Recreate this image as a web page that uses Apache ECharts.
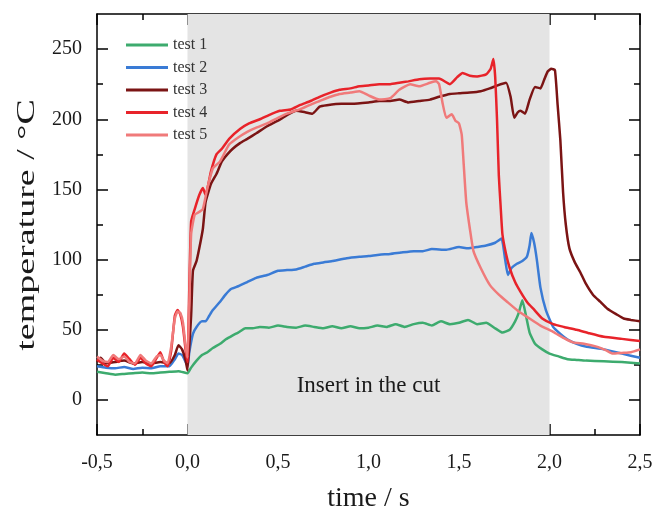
<!DOCTYPE html>
<html>
<head>
<meta charset="utf-8">
<script src="https://cdn.jsdelivr.net/npm/echarts@6/dist/echarts.min.js"></script>
<style>
  html, body { margin: 0; padding: 0; background: #fff; }
  #chart { width: 654px; height: 514px; }
</style>
</head>
<body>
<div id="chart"></div>
<script>
// series names + colours
var seriesNames = ['test 1', 'test 2', 'test 3', 'test 4', 'test 5'];
var seriesColors = ['#3dab6e', '#3a7bd5', '#7b1414', '#e8232a', '#f07a7a'];

// axis ticks
var yMajorTicks = [0, 50, 100, 150, 200, 250];
var yMinorTicks = [25, 75, 125, 175, 225];
var shadeRange = [0, 2];
var shadeLabel = 'Insert in the cut';
var yTitle = 'temperature / °C';
var xTitle = 'time / s';

// [time s, temperature °C]
var test1 = [[-0.5,20],[-0.45,19],[-0.4,18],[-0.35,18.5],[-0.3,19],[-0.25,19.5],[-0.2,19],[-0.15,19.5],[-0.1,20],[-0.05,20.5],[0,19],[0.02,23],[0.05,28],[0.08,32],[0.11,34],[0.14,37],[0.18,40],[0.21,43],[0.25,46],[0.28,48],[0.32,51],[0.36,51],[0.4,52],[0.45,51.5],[0.5,53],[0.55,52],[0.6,51.5],[0.65,53],[0.7,52],[0.75,51],[0.8,52.5],[0.85,51],[0.9,52.5],[0.95,51],[1.0,51.5],[1.05,53],[1.1,52],[1.15,54],[1.2,52],[1.25,54],[1.3,55],[1.35,53],[1.4,56],[1.45,54],[1.5,55],[1.55,57],[1.6,54],[1.65,55],[1.7,51],[1.74,48],[1.78,50],[1.81,56],[1.83,62],[1.85,71],[1.87,60],[1.89,48],[1.92,40],[1.96,36],[2.0,33],[2.05,31],[2.1,29],[2.15,28.5],[2.2,28],[2.3,27.5],[2.4,27],[2.5,26]];
var test2 = [[-0.5,24],[-0.45,23],[-0.4,22.5],[-0.35,23.5],[-0.3,22],[-0.25,23],[-0.2,22.5],[-0.15,24],[-0.1,24],[-0.07,29],[-0.05,33],[-0.03,32],[-0.01,27],[0,24],[0.01,34],[0.03,47],[0.05,52],[0.08,56],[0.1,56],[0.12,60],[0.14,64],[0.18,70],[0.21,75],[0.24,79],[0.28,81],[0.33,84],[0.38,87],[0.44,89],[0.5,92],[0.55,92.5],[0.6,93],[0.65,95],[0.7,97],[0.75,98],[0.8,99],[0.88,101],[0.95,102],[1.0,102.5],[1.06,103.5],[1.12,104],[1.18,105],[1.25,106],[1.3,106],[1.35,107.5],[1.43,107],[1.5,109],[1.55,108],[1.6,109],[1.65,110],[1.7,112],[1.735,115],[1.755,100],[1.77,89],[1.79,94],[1.82,97],[1.85,99],[1.875,102],[1.89,110],[1.9,119],[1.915,112],[1.93,100],[1.95,80],[1.98,64],[2.02,52],[2.06,47],[2.1,43],[2.15,40],[2.2,38],[2.3,36],[2.4,33],[2.5,30]];
var test3 = [[-0.5,27],[-0.48,30],[-0.45,26],[-0.4,27],[-0.35,28],[-0.3,26],[-0.25,27],[-0.2,26],[-0.15,27],[-0.1,26],[-0.07,32],[-0.05,39],[-0.03,36],[-0.01,28],[0,21],[0.02,60],[0.03,92],[0.05,99],[0.065,108],[0.085,122],[0.1,141],[0.13,154],[0.16,161],[0.19,170],[0.22,175],[0.25,179],[0.29,183],[0.33,186],[0.38,190],[0.44,195],[0.5,199],[0.55,203],[0.6,206],[0.65,205],[0.69,204],[0.73,209],[0.77,210],[0.85,211],[0.91,211],[1.0,212],[1.06,213],[1.12,213],[1.17,214],[1.22,212],[1.28,213],[1.34,214],[1.39,216],[1.45,218],[1.5,218.5],[1.56,219],[1.62,220],[1.67,222],[1.71,224],[1.76,226],[1.785,216],[1.805,201],[1.825,205],[1.84,206],[1.865,204],[1.89,214],[1.92,223],[1.95,222],[1.97,228],[1.99,234],[2.01,236],[2.03,235],[2.045,210],[2.06,185],[2.075,148],[2.09,125],[2.11,108],[2.14,98],[2.17,91],[2.2,83],[2.24,75],[2.28,70],[2.32,65],[2.37,61],[2.41,58],[2.45,57],[2.5,56]];
var test4 = [[-0.5,29],[-0.47,26],[-0.44,24],[-0.41,30],[-0.38,27],[-0.35,33],[-0.32,29],[-0.29,25],[-0.26,30],[-0.23,26],[-0.2,24],[-0.17,30],[-0.15,34],[-0.13,27],[-0.11,24],[-0.09,35],[-0.07,60],[-0.055,64],[-0.04,61],[-0.025,52],[-0.01,35],[0,27],[0.01,80],[0.02,127],[0.04,136],[0.065,146],[0.085,151],[0.1,146],[0.13,163],[0.16,175],[0.19,179],[0.23,186],[0.29,193],[0.34,197],[0.4,200],[0.45,203],[0.51,206],[0.57,207],[0.62,210],[0.68,213],[0.73,216],[0.79,219],[0.84,221],[0.9,222],[0.95,223.5],[1.0,224],[1.06,225],[1.12,225],[1.17,226],[1.22,227],[1.28,228.5],[1.34,229],[1.39,229],[1.45,225],[1.49,230],[1.52,233],[1.56,231],[1.6,230.5],[1.65,232],[1.675,236],[1.69,243],[1.7,230],[1.71,200],[1.72,160],[1.73,138],[1.74,118],[1.76,104],[1.78,94],[1.81,84],[1.84,77],[1.88,69],[1.91,65],[1.96,58],[2.02,54],[2.08,52],[2.15,50],[2.22,47.5],[2.3,45],[2.4,43.5],[2.5,42]];
var test5 = [[-0.5,31],[-0.47,28],[-0.44,27],[-0.41,32],[-0.38,29],[-0.35,31],[-0.32,27],[-0.29,26],[-0.26,32],[-0.23,28],[-0.2,26],[-0.17,31],[-0.15,32],[-0.13,28],[-0.11,26],[-0.09,38],[-0.07,58],[-0.055,63],[-0.04,62],[-0.025,55],[-0.01,38],[0,30],[0.01,70],[0.02,118],[0.04,132],[0.065,134],[0.085,136],[0.11,151],[0.14,165],[0.18,170],[0.23,182],[0.28,187],[0.33,191],[0.38,194],[0.44,197],[0.5,201],[0.55,204],[0.62,207],[0.69,211],[0.73,213],[0.79,216],[0.84,218],[0.9,219],[0.95,220],[1.0,217],[1.06,214],[1.12,215],[1.17,221],[1.23,225],[1.28,223.5],[1.34,226],[1.375,227],[1.39,225],[1.41,211],[1.43,201],[1.46,203.5],[1.48,199],[1.5,197],[1.515,189],[1.525,170],[1.54,141],[1.56,122],[1.58,106],[1.62,94],[1.67,82],[1.72,75],[1.765,70],[1.83,63],[1.89,58],[1.95,53],[2.02,48.5],[2.08,44],[2.13,41],[2.19,40],[2.26,38],[2.31,35.5],[2.35,33],[2.4,33.5],[2.45,34],[2.5,36]];

var allData = [test1, test2, test3, test4, test5];

var FONT = 'Liberation Serif';
var INK = '#1a1a1a';

var chart = echarts.init(document.getElementById('chart'));

function xAxisDef(pos, withLabels) {
  return {
    type: 'value', position: pos, min: -0.5, max: 2.5, interval: 0.5,
    name: withLabels ? xTitle : '',
    nameLocation: 'middle', nameGap: 50,
    nameTextStyle: { fontFamily: FONT, fontSize: 28, color: INK },
    axisLine: { show: true, onZero: false, lineStyle: { color: '#000', width: 1.5 } },
    axisTick: { show: true, inside: true, length: 11, lineStyle: { color: '#000', width: 1.5 } },
    minorTick: { show: true, splitNumber: 2, length: 6, lineStyle: { color: '#000', width: 1.5 } },
    axisLabel: {
      show: withLabels, margin: 18, fontFamily: FONT, fontSize: 20, color: INK,
      formatter: function (v) { return v.toFixed(1).replace('.', ','); }
    },
    splitLine: { show: false }, minorSplitLine: { show: false }
  };
}

function yAxisDef(pos, ticks, len, showLine, withLabels) {
  return {
    type: 'value', position: pos, min: -25, max: 275,
    axisLine: { show: showLine, onZero: false, lineStyle: { color: '#000', width: 1.5 } },
    axisTick: { show: true, inside: true, length: len, customValues: ticks, lineStyle: { color: '#000', width: 1.5 } },
    axisLabel: { show: withLabels, customValues: yMajorTicks, margin: 15, fontFamily: FONT, fontSize: 20, color: INK },
    splitLine: { show: false }
  };
}

var series = [{
  type: 'line', data: [], silent: true,
  markArea: {
    silent: true,
    itemStyle: { color: '#e4e4e4' },
    label: { show: true, position: 'insideBottom', distance: 38, fontFamily: FONT, fontSize: 23, color: INK },
    data: [[{ xAxis: shadeRange[0], name: shadeLabel }, { xAxis: shadeRange[1] }]]
  }
}];
allData.forEach(function (d, i) {
  series.push({
    name: seriesNames[i], type: 'line', data: d, color: seriesColors[i],
    showSymbol: false, smooth: 0.15,
    lineStyle: { width: 2.5, color: seriesColors[i] },
    xAxisIndex: 0, yAxisIndex: 0, z: 3 + i
  });
});

chart.setOption({
  backgroundColor: '#fff',
  animation: false,
  grid: { left: 97, right: 14, top: 14, bottom: 79, outerBoundsMode: 'none' },
  legend: {
    data: seriesNames, orient: 'vertical', left: 121, top: 32,
    icon: 'rect', itemWidth: 42, itemHeight: 3, itemGap: 6.5,
    textStyle: { fontFamily: FONT, fontSize: 16, color: '#333' }
  },
  // the y title in the picture is drawn long and narrow
  graphic: [{
    type: 'text', x: 27, y: 225, rotation: Math.PI / 2, scaleX: 1.52, scaleY: 1,
    style: { text: yTitle, fontFamily: FONT, fontSize: 25, fill: INK, align: 'center', verticalAlign: 'middle' }
  }],
  xAxis: [xAxisDef('bottom', true), xAxisDef('top', false)],
  yAxis: [
    yAxisDef('left', yMajorTicks, 11, true, true),
    yAxisDef('left', yMinorTicks, 6, false, false),
    yAxisDef('right', yMajorTicks, 11, true, false),
    yAxisDef('right', yMinorTicks, 6, false, false)
  ],
  series: series
});
</script>
</body>
</html>
